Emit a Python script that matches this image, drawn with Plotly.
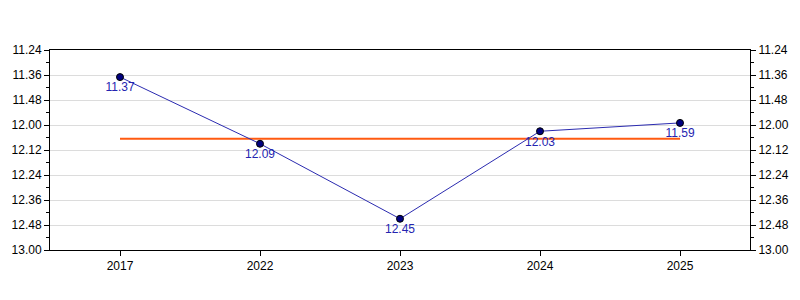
import plotly.graph_objects as go

years = ["2017", "2022", "2023", "2024", "2025"]
times = ["11.37", "12.09", "12.45", "12.03", "11.59"]  # minutes.seconds
tick_times = ["11.24", "11.36", "11.48", "12.00", "12.12", "12.24", "12.36", "12.48", "13.00"]


def to_sec(t):
    m, s = t.split(".")
    return int(m) * 60 + int(s)


secs = [to_sec(t) for t in times]
tick_secs = [to_sec(t) for t in tick_times]
avg = sum(secs) / len(secs)

font = dict(family="Liberation Sans, Arial, sans-serif", size=12, color="black")

fig = go.Figure()
fig.add_trace(go.Scatter(
    x=years, y=[avg] * len(years), mode="lines",
    line=dict(color="#ff5a10", width=2), hoverinfo="skip", showlegend=False,
))
fig.add_trace(go.Scatter(
    x=years, y=secs, mode="lines+markers+text",
    text=times, textposition="bottom center",
    textfont=dict(family="Liberation Sans, Arial, sans-serif", size=12, color="#2424b0"),
    line=dict(color="#2b2bb0", width=1),
    marker=dict(color="#000080", size=7, line=dict(color="black", width=1)),
    showlegend=False,
))
fig.add_trace(go.Scatter(
    x=years, y=secs, mode="markers", yaxis="y2",
    marker=dict(opacity=0), hoverinfo="skip", showlegend=False,
))

yax = dict(
    range=[tick_secs[-1], tick_secs[0]],
    tickmode="array", tickvals=tick_secs, ticktext=tick_times,
    ticks="outside", ticklen=5, tickcolor="black",
    showline=True, linecolor="black", linewidth=1,
    showgrid=True, gridcolor="#dcdcdc", gridwidth=1,
    zeroline=False, tickfont=font,
    minor=dict(tickmode="array", tickvals=[v + 6 for v in tick_secs[:-1]],
               ticks="outside", ticklen=3, tickcolor="black", showgrid=False),
)

fig.update_layout(
    width=800, height=300,
    margin=dict(l=50, r=50, t=50, b=50),
    paper_bgcolor="white", plot_bgcolor="white",
    font=font,
    xaxis=dict(
        type="category", range=[-0.5, 4.5],
        ticks="outside", ticklen=5, tickcolor="black",
        showline=True, linecolor="black", linewidth=1, mirror=True,
        showgrid=False, tickfont=font,
    ),
    yaxis=dict(**yax, side="left", mirror=False),
    yaxis2=dict(**{k: v for k, v in yax.items() if k != "showgrid"}, showgrid=False,
                side="right", overlaying="y"),
)

fig.write_html("out.html")
